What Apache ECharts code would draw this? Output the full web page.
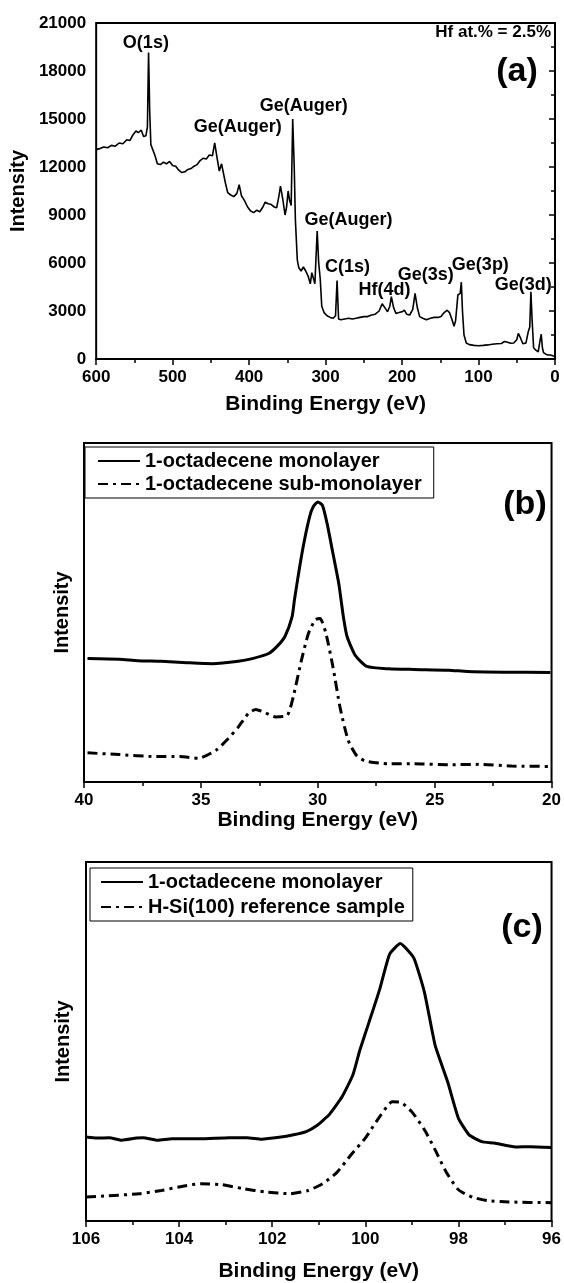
<!DOCTYPE html>
<html><head><meta charset="utf-8">
<script src="https://cdn.jsdelivr.net/npm/echarts@6/dist/echarts.min.js"></script>
<style>html,body{margin:0;padding:0;background:#fff}#c{width:564px;height:1283px}</style>
</head><body><div id="c"></div><script>
// ---------- Panel (a): XPS survey ----------
const surveyEnergy = [600,595,590,585,580,575,570,565,560,556,552,548,545,541,538,535,533,531.5,530,528.5,526,523,520,516,512,508,504,500,496,492,488,484,480,476,472,468,464,460,456,452,448,445,442,439,436,434,431,428,424,420,416,413,410,406,402,398,394,390,386,382,379,375,371,367,364,361,359,356,353,351,349,347,345,343,341,339.5,337,335,332,329,326,323,320,318,316,314,311,309,307,305,302,298,294,290,287,285,283,280,275,270,265,260,255,250,245,240,235,230,226,224,221,219,216,214,211,208,204,200,197,194,190,186,183,180,177,173,168,163,158,153,149,145,141,138,135,132,130,127,124,122.5,121,119,116,112,106,100,94,88,82,76,70,66,62,58,54,50,48,45,42,38,35,33,31.5,30,28,25,22,19,18,16.5,15,12,9,6,3,0];
const surveyIntensity = [13100,13150,13250,13200,13350,13300,13500,13450,13700,13650,14000,14250,14150,14300,13900,13950,14500,19150,15500,13400,13400,12700,12200,12150,12300,12200,12350,12100,12050,11800,11650,11700,11850,11900,12050,12150,12400,12550,12500,12750,12700,13500,12600,11750,12200,12150,11000,10400,10250,10150,10350,10900,10200,9900,9500,9250,9150,9300,9200,9500,9800,9700,9650,9500,9450,10200,10800,10000,9000,9500,10500,9900,9600,15000,12000,8700,6200,5700,5500,5750,5500,5200,4700,5400,5300,4700,8000,6000,5000,3300,2900,2700,2600,2550,2700,4900,2500,2450,2500,2550,2500,2550,2600,2650,2650,2750,2800,3000,3450,3550,3100,2950,3300,3900,3200,2850,2900,2950,3050,2800,2750,3100,4100,3200,2650,2550,2450,2550,2600,2600,2650,2900,3050,2900,2500,2050,2400,4000,4100,4800,3000,1500,1000,900,850,830,850,880,920,950,970,1100,1050,980,1000,1200,1600,1300,950,1000,1700,2000,4200,2500,700,550,450,1300,1550,700,400,300,250,250,200,150];
const surveyYTicks = [0,3000,6000,9000,12000,15000,18000,21000];
const surveyLabels = ['O(1s)','Ge(Auger)','Ge(Auger)','Ge(Auger)','C(1s)','Hf(4d)','Ge(3s)','Ge(3p)','Ge(3d)'];
const surveyLabelEnergy = [535,415,328.6,270,271.4,223,169,97.6,41.6];
const surveyLabelIntensity = [19750,14500,15810,8690,5750,4310,5250,5875,4625];

// ---------- Panel (b): 30 eV region ----------
const seriesNamesB = ['1-octadecene monolayer','1-octadecene sub-monolayer'];
const monoEnergyB = [39.85,38.5,37.7,36.7,35.6,34.5,33.4,32.8,32.1,31.7,31.4,31.1,31.0,30.8,30.6,30.35,30.2,30.0,29.8,29.6,29.35,29.1,29.0,28.9,28.75,28.4,27.9,26.97,25.9,24.4,23.6,22.05,20.05];
const monoIntB = [36.4,36.2,35.8,35.6,35.2,34.9,35.6,36.4,37.9,40.3,43.0,48.7,53.6,62.4,70.3,78.2,81.1,82.6,81.6,76.2,67.4,58.5,53.5,48.5,43.0,37.4,34.1,33.4,33.2,33.0,32.6,32.4,32.3];
const subEnergyB = [39.85,38.5,36.97,35.9,35.1,34.35,33.9,33.4,32.97,32.65,32.3,31.8,31.3,31.05,30.7,30.4,30.1,29.9,29.65,29.35,29.05,28.7,28.35,27.97,26.97,25.9,24.35,23.1,21.7,20.05];
const subIntB = [8.6,8.1,7.5,7.5,7.0,9.4,12.3,16.2,20.2,21.4,20.6,19.2,19.7,25.1,35.9,43.8,47.9,48.2,43.8,33.9,22.1,12.3,7.9,6.2,5.4,5.4,5.1,5.2,4.7,4.6];

// ---------- Panel (c): Si 2p region ----------
const seriesNamesC = ['1-octadecene monolayer','H-Si(100) reference sample'];
const monoEnergyC = [106,105.77,105.5,105.23,104.92,104.77,104.46,104.15,103.54,102.92,102.54,102.23,101.85,101.54,101.27,101.04,100.77,100.5,100.27,100.12,99.92,99.69,99.48,99.25,98.96,98.73,98.5,98.23,98.0,97.77,97.5,97.23,96.77,96.46,96];
const monoIntC = [23.4,23.1,23.2,22.5,23.1,23.2,22.5,22.9,22.9,23.2,23.2,22.8,23.3,24.0,24.9,26.6,29.7,34.6,40.6,47.5,55.4,64.6,74.3,77.3,73.3,63.7,48.9,38.7,28.6,24.0,22.1,21.7,20.6,20.7,20.5];
const refEnergyC = [106,105.54,104.85,104.38,103.92,103.54,103.08,102.62,102.15,101.62,101.23,100.92,100.62,100.31,100.0,99.69,99.42,99.23,99.0,98.73,98.5,98.27,98.0,97.69,97.38,96.92,96];
const refIntC = [6.7,7.0,7.6,8.5,9.7,10.4,10.1,9.0,8.1,7.6,8.5,10.4,13.4,18.4,23.1,29.1,33.2,33.0,30.4,25.4,19.8,13.8,8.7,6.6,5.7,5.3,5.1];

const FONT = "'Liberation Sans', Arial, Helvetica, sans-serif";
const zip = (xs, ys) => xs.map((x, i) => [x, ys[i]]);
const DASHDOT = [10, 5, 3, 5];

function xAxisCfg(grid, min, max, interval, gap) {
  return {
    type: 'value', gridIndex: grid, inverse: true, min, max, interval,
    name: 'Binding Energy (eV)', nameLocation: 'middle', nameGap: gap,
    nameTextStyle: {fontFamily: FONT, fontWeight: 'bold', fontSize: 21, color: '#000'},
    axisLine: {lineStyle: {color: '#000', width: 2}},
    axisTick: {show: true, inside: false, length: 6, lineStyle: {color: '#000', width: 1.5}},
    minorTick: {show: true, splitNumber: 2, length: 4, lineStyle: {color: '#000', width: 1.5}},
    splitLine: {show: false},
    axisLabel: {margin: 10, fontFamily: FONT, fontWeight: 'bold', fontSize: 17, color: '#000', showMinLabel: true, showMaxLabel: true,
      formatter: v => String(v)}
  };
}
function yAxisPlain(grid, gap) {
  return {
    type: 'value', gridIndex: grid, min: 0, max: 100,
    name: 'Intensity', nameLocation: 'middle', nameGap: gap,
    nameTextStyle: {fontFamily: FONT, fontWeight: 'bold', fontSize: 20, color: '#000'},
    axisLine: {show: true, lineStyle: {color: '#000', width: 2}},
    axisTick: {show: false}, axisLabel: {show: false}, splitLine: {show: false}
  };
}
const gridBase = {show: true, borderColor: '#000', borderWidth: 2, backgroundColor: 'transparent', containLabel: false};

const legendBase = {
  orient: 'vertical', borderColor: '#000', borderWidth: 1, selectedMode: false,
  itemWidth: 42, itemHeight: 14, itemGap: 3,
  itemStyle: {opacity: 0},
  textStyle: {fontFamily: FONT, fontWeight: 'bold', fontSize: 20, color: '#000'}
};

const option = {
  animation: false,
  backgroundColor: '#fff',
  grid: [
    Object.assign({left: 94, top: 23, width: 461, height: 336}, gridBase),
    Object.assign({left: 84, top: 443, width: 470, height: 339}, gridBase),
    Object.assign({left: 86, top: 862, width: 469, height: 362}, gridBase)
  ],
  xAxis: [
    xAxisCfg(0, 0, 600, 100, 35),
    xAxisCfg(1, 20, 40, 5, 28),
    xAxisCfg(2, 96, 106, 2, 40)
  ],
  yAxis: [
    {
      type: 'value', gridIndex: 0, min: surveyYTicks[0], max: surveyYTicks[surveyYTicks.length - 1], interval: 3000,
      name: 'Intensity', nameLocation: 'middle', nameGap: 64,
      nameTextStyle: {fontFamily: FONT, fontWeight: 'bold', fontSize: 20, color: '#000'},
      axisLine: {show: true, lineStyle: {color: '#000', width: 2}},
      axisTick: {show: true, length: 6, lineStyle: {color: '#000', width: 1.5}},
      minorTick: {show: true, splitNumber: 2, length: 4, lineStyle: {color: '#000', width: 1.5}},
      splitLine: {show: false},
      axisLabel: {margin: 10, fontFamily: FONT, fontWeight: 'bold', fontSize: 17, color: '#000', formatter: v => String(v)}
    },
    yAxisPlain(1, 12),
    yAxisPlain(2, 13)
  ],
  legend: [
    Object.assign({data: seriesNamesB, left: 85, top: 447, padding: [4, 12, 4, 12]}, legendBase),
    Object.assign({data: seriesNamesC, left: 90, top: 868, padding: [4, 8, 4, 10]}, legendBase, {itemGap: 5})
  ],
  series: [
    {type: 'line', name: 'survey', xAxisIndex: 0, yAxisIndex: 0, data: zip(surveyEnergy, surveyIntensity),
     symbol: 'none', lineStyle: {color: '#000', width: 1.6}, z: 3},
    {type: 'line', name: seriesNamesB[0], xAxisIndex: 1, yAxisIndex: 1, data: zip(monoEnergyB, monoIntB),
     symbol: 'none', smooth: 0.2, color: '#000', lineStyle: {color: '#000', width: 3}},
    {type: 'line', name: seriesNamesB[1], xAxisIndex: 1, yAxisIndex: 1, data: zip(subEnergyB, subIntB),
     symbol: 'none', smooth: 0.2, color: '#000', lineStyle: {color: '#000', width: 3, type: DASHDOT}},
    {type: 'line', name: seriesNamesC[0], xAxisIndex: 2, yAxisIndex: 2, data: zip(monoEnergyC, monoIntC),
     symbol: 'none', smooth: 0.15, color: '#000', lineStyle: {color: '#000', width: 3}},
    {type: 'line', name: seriesNamesC[1], xAxisIndex: 2, yAxisIndex: 2, data: zip(refEnergyC, refIntC),
     symbol: 'none', smooth: 0.2, color: '#000', lineStyle: {color: '#000', width: 3, type: DASHDOT}}
  ]
};

const chart = echarts.init(document.getElementById('c'), null, {renderer: 'canvas'});
chart.setOption(option);

// annotations placed through the panel (a) axes
const textEls = surveyLabels.map((t, i) => {
  const p = chart.convertToPixel({xAxisIndex: 0, yAxisIndex: 0}, [surveyLabelEnergy[i], surveyLabelIntensity[i]]);
  return {type: 'text', x: p[0], y: p[1], z: 10,
    style: {text: t, fill: '#000', font: 'bold 18px ' + FONT, textAlign: 'center', textVerticalAlign: 'middle'}};
});
textEls.push(
  {type: 'text', x: 551, y: 32, z: 10, style: {text: 'Hf at.% = 2.5%', fill: '#000', font: 'bold 17px ' + FONT, textAlign: 'right', textVerticalAlign: 'middle'}},
  {type: 'text', x: 517, y: 72, z: 10, style: {text: '(a)', fill: '#000', font: 'bold 34px ' + FONT, textAlign: 'center', textVerticalAlign: 'middle'}},
  {type: 'text', x: 525, y: 505, z: 10, style: {text: '(b)', fill: '#000', font: 'bold 34px ' + FONT, textAlign: 'center', textVerticalAlign: 'middle'}},
  {type: 'text', x: 522, y: 928, z: 10, style: {text: '(c)', fill: '#000', font: 'bold 34px ' + FONT, textAlign: 'center', textVerticalAlign: 'middle'}}
);
chart.setOption({graphic: textEls});
</script></body></html>
